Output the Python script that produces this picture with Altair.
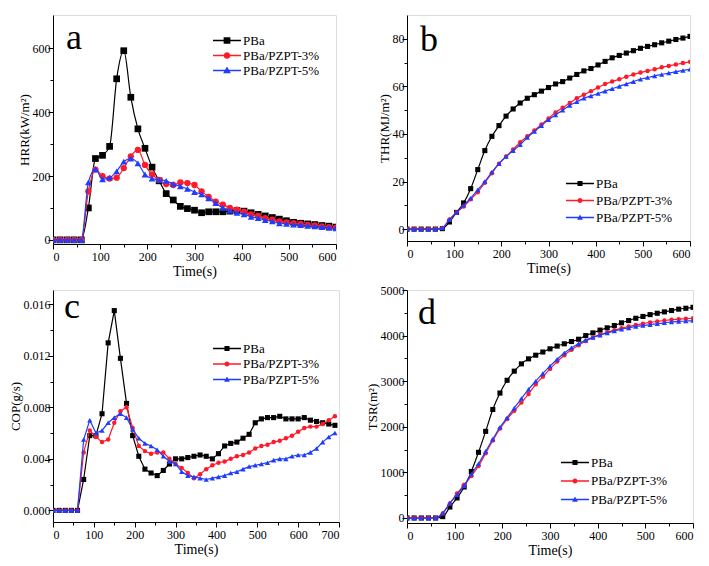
import altair as alt
import pandas as pd

# ---------------- data ----------------
series_names = ["PBa", "PBa/PZPT-3%", "PBa/PZPT-5%"]
series_colors = ["#000000", "#ff1a2a", "#1f3cff"]
series_shapes = ["square", "circle", "triangle-up"]

time_600 = list(range(0, 601, 15))
time_700 = list(range(0, 691, 15))

hrr_pba = [0, 0, 0, 0, 0, 100, 255, 265, 293, 505, 593, 447, 348, 287, 228,
           185, 145, 125, 105, 98, 93, 85, 88, 88, 88, 90, 92, 90, 85, 80,
           75, 70, 65, 60, 55, 52, 50, 48, 45, 43, 40]
hrr_3 = [0, 0, 0, 0, 0, 152, 220, 200, 192, 195, 225, 262, 282, 235, 205,
         188, 175, 172, 180, 178, 172, 152, 135, 120, 110, 100, 95, 88, 80, 75,
         68, 63, 58, 55, 52, 50, 47, 45, 42, 40, 38]
hrr_5 = [0, 0, 0, 0, 0, 180, 222, 190, 195, 215, 245, 255, 240, 205, 192,
         188, 185, 175, 168, 160, 150, 143, 130, 115, 100, 92, 85, 80, 72, 68,
         62, 58, 52, 50, 48, 46, 44, 42, 40, 38, 36]

thr_pba = [0, 0, 0, 0, 0, 0.2, 3, 7, 11, 17, 25, 33, 39, 43.5, 47.5,
           50.5, 53, 55, 56.5, 58, 59.5, 61, 62, 63.5, 65, 66.5, 67.5, 69, 70.5, 72,
           73, 74, 75, 76, 76.8, 77.5, 78.3, 79, 79.7, 80.3, 81]
thr_3 = [0, 0, 0, 0, 0, 0.5, 4, 7, 9.5, 12.5, 15.5, 19.5, 23.5, 27.5, 30.5,
         33.5, 36.5, 39, 41.5, 44, 46.5, 49, 51, 53, 55, 56.5, 58, 59.5, 61, 62,
         63, 64, 65, 65.8, 66.5, 67.2, 68, 68.6, 69.2, 69.8, 70.3]
thr_5 = [0, 0, 0, 0, 0, 0.5, 4, 7, 10, 13, 16.5, 20, 24, 27.5, 30.5,
         33, 35.5, 38.5, 41, 43.5, 46, 48, 50, 52, 53.5, 55, 56, 57, 58, 59,
         60, 61, 62, 63, 63.7, 64.4, 65, 65.6, 66.2, 66.7, 67.2]

cop_pba = [0, 0, 0, 0, 0, 0.0024, 0.0058, 0.0058, 0.0075, 0.0130, 0.0155, 0.0118,
           0.0083, 0.0058, 0.0042, 0.0032, 0.0029, 0.0027, 0.0031, 0.0036, 0.0040,
           0.0040, 0.0041, 0.0042, 0.0043, 0.0042, 0.0040, 0.0044, 0.0050, 0.0052,
           0.0053, 0.0056, 0.0059, 0.0068, 0.0071, 0.0072, 0.0072, 0.0073, 0.0071,
           0.0071, 0.0071, 0.0072, 0.0070, 0.0069, 0.0068, 0.0067, 0.0066]
cop_3 = [0, 0, 0, 0, 0, 0.0045, 0.0062, 0.0057, 0.0053, 0.0055, 0.0068, 0.0077,
         0.0080, 0.0064, 0.0050, 0.0046, 0.0044, 0.0045, 0.0045, 0.0040, 0.0036,
         0.0033, 0.0029, 0.0025, 0.0028, 0.0032, 0.0035, 0.0037, 0.0038, 0.0040,
         0.0042, 0.0043, 0.0045, 0.0048, 0.0050, 0.0051, 0.0053, 0.0054, 0.0056,
         0.0058, 0.0061, 0.0064, 0.0065, 0.0065, 0.0067, 0.0070, 0.0073]
cop_5 = [0, 0, 0, 0, 0, 0.0055, 0.0070, 0.0060, 0.0062, 0.0068, 0.0072, 0.0075,
         0.0072, 0.0063, 0.0056, 0.0052, 0.0050, 0.0047, 0.0042, 0.0038, 0.0036,
         0.0030, 0.0027, 0.0026, 0.0025, 0.0024, 0.0025, 0.0026, 0.0027, 0.0029,
         0.0030, 0.0032, 0.0034, 0.0035, 0.0036, 0.0037, 0.0039, 0.0040, 0.0040,
         0.0042, 0.0043, 0.0043, 0.0045, 0.0048, 0.0053, 0.0057, 0.0060]

tsr_pba = [0, 0, 0, 0, 0, 30, 240, 440, 680, 1020, 1440, 1900, 2380, 2740, 3020,
           3220, 3380, 3490, 3570, 3640, 3710, 3770, 3820, 3870, 3920, 4000, 4060,
           4120, 4170, 4220, 4280, 4330, 4380, 4420, 4460, 4490, 4520, 4550, 4580,
           4600, 4620]
tsr_3 = [0, 0, 0, 0, 0, 100, 320, 540, 730, 920, 1140, 1420, 1700, 1960, 2170,
         2350, 2530, 2720, 2930, 3100, 3270, 3430, 3570, 3690, 3790, 3880, 3960,
         4020, 4070, 4120, 4160, 4200, 4230, 4260, 4290, 4310, 4330, 4350, 4360,
         4370, 4380]
tsr_5 = [0, 0, 0, 0, 0, 110, 330, 510, 710, 960, 1190, 1460, 1730, 1990, 2200,
         2410, 2620, 2820, 3000, 3170, 3330, 3480, 3620, 3730, 3820, 3900, 3960,
         4010, 4060, 4100, 4140, 4170, 4200, 4220, 4240, 4260, 4280, 4300, 4310,
         4320, 4330]

# ---------------- styling ----------------
FONT = "Liberation Serif"


def legend_paths(m):
    # legend symbol = thin bar (the line) + marker, all inside the unit square
    bar = "M-1,-0.045H1V0.045H-1Z"
    return [
        bar + "M-%.3f,-%.3fH%.3fV%.3fH-%.3fZ" % (m, m, m, m, m),
        bar + "M-%.3f,0A%.3f,%.3f 0 1,1 %.3f,0A%.3f,%.3f 0 1,1 -%.3f,0Z" % (m, m, m, m, m, m, m),
        bar + "M0,-%.3fL%.3f,%.3fH-%.3fZ" % (1.2 * m, 1.15 * m, 0.85 * m, 1.15 * m),
    ]


def make_axis(major, minor, fmt, title, lab_pad, title_pad, title_size):
    values = sorted(set(major) | set(minor))
    test = "indexof(%s, datum.value) >= 0" % str(list(major))
    return alt.Axis(
        values=values,
        format=fmt,
        labelExpr="%s ? datum.label : ''" % test,
        tickSize={"condition": {"test": test, "value": 5}, "value": 3},
        title=title,
        grid=False,
        domainColor="black",
        tickColor="black",
        labelColor="black",
        titleColor="black",
        labelFont=FONT,
        titleFont=FONT,
        labelFontSize=12,
        titleFontSize=title_size,
        titleFontWeight="normal",
        labelPadding=lab_pad,
        titlePadding=title_pad,
    )


def panel(times, values, xdom, xmaj, xmin, ydom, ymaj, ymin, yfmt, ytitle,
          letter, letter_pos, leg_pos, leg_row, leg_marker, msize, interp, width, height):
    rows = []
    for name, vals in zip(series_names, values):
        for t, v in zip(times, vals):
            rows.append({"t": t, "v": v, "series": name})
    df = pd.DataFrame(rows)
    x_enc = alt.X("t:Q", scale=alt.Scale(domain=xdom, nice=False, zero=False),
                  axis=make_axis(xmaj, xmin, "d", "Time(s)", 2, 2, 14))
    y_enc = alt.Y("v:Q", scale=alt.Scale(domain=ydom, nice=False, zero=False),
                  axis=make_axis(ymaj, ymin, yfmt, ytitle, -2, 1, 13))
    layers = []
    for name, col, shp in zip(series_names, series_colors, series_shapes):
        base = alt.Chart(df).transform_filter(alt.datum.series == name)
        layers.append(base.mark_line(color=col, strokeWidth=1.2, interpolate=interp,
                                     clip=True).encode(x=x_enc, y=y_enc))
        layers.append(base.mark_point(shape=shp, filled=True, color=col, opacity=1,
                                      size=msize[shp], clip=True).encode(x=x_enc, y=y_enc))
    leg = alt.Legend(orient="none", legendX=leg_pos[0], legendY=leg_pos[1], title=None,
                     labelFont=FONT, labelFontSize=13, labelColor="black",
                     symbolSize=784, symbolStrokeWidth=0, symbolOpacity=1,
                     clipHeight=15, labelOffset=2, rowPadding=leg_row, padding=0)
    legend_layer = alt.Chart(df).transform_filter("false").mark_point(
        filled=True, opacity=1).encode(
        x=x_enc, y=y_enc,
        color=alt.Color("series:N", scale=alt.Scale(domain=series_names, range=series_colors), legend=leg),
        shape=alt.Shape("series:N", scale=alt.Scale(domain=series_names, range=legend_paths(leg_marker)),
                        legend=leg),
    )
    layers.append(legend_layer)
    letter_layer = alt.Chart(pd.DataFrame({"lab": [letter]})).mark_text(
        font=FONT, fontSize=36, align="center", baseline="alphabetic", color="black"
    ).encode(text="lab:N", x=alt.value(letter_pos[0]), y=alt.value(letter_pos[1]))
    layers.append(letter_layer)
    return alt.layer(*layers).properties(width=width, height=height)


big = {"square": 45, "circle": 40, "triangle-up": 45}
small = {"square": 26, "circle": 20, "triangle-up": 28}

pa = panel(time_600, [hrr_pba, hrr_3, hrr_5], [0, 600], [0, 100, 200, 300, 400, 500, 600],
           [50, 150, 250, 350, 450, 550], [-13, 705], [0, 200, 400, 600], [100, 300, 500],
           "d", "HRR(kW/m²)", "a", (21, 34), (160, 18), 0, 0.24, big, "monotone", 283, 229)
pb = panel(time_600, [thr_pba, thr_3, thr_5], [0, 600], [0, 100, 200, 300, 400, 500, 600],
           [50, 150, 250, 350, 450, 550], [-5, 90], [0, 20, 40, 60, 80], [10, 30, 50, 70],
           "d", "THR(MJ/m²)", "b", (22, 36), (159, 161), 2, 0.18, small, "monotone", 283, 226)
pc = panel(time_700, [cop_pba, cop_3, cop_5], [0, 700], [0, 100, 200, 300, 400, 500, 600, 700],
           [50, 150, 250, 350, 450, 550, 650], [-0.0009, 0.0171],
           [0.0, 0.004, 0.008, 0.012, 0.016], [0.002, 0.006, 0.010, 0.014],
           ".3f", "COP(g/s)", "c", (19, 28), (160, 51), 0.5, 0.18, small, "linear", 286, 232)
pd_ = panel(time_600, [tsr_pba, tsr_3, tsr_5], [0, 600], [0, 100, 200, 300, 400, 500, 600],
            [50, 150, 250, 350, 450, 550], [-110, 5000],
            [0, 1000, 2000, 3000, 4000, 5000], [500, 1500, 2500, 3500, 4500],
            "d", "TSR(m²)", "d", (20, 34), (154, 165), 3.5, 0.18, small, "monotone", 286, 233)

chart = alt.ConcatChart(
    concat=[pa, pb, pc, pd_], columns=2,
    spacing={"row": 46, "column": 68}, bounds="flush",
).resolve_scale(
    color="independent", shape="independent"
).resolve_legend(
    color="independent", shape="independent"
).properties(
    padding={"left": 0, "top": 6, "right": 5, "bottom": 0}
).configure_view(stroke="black", strokeWidth=1).configure(background="white")

chart.save("out.html", embed_options={"renderer": "svg", "actions": False})
